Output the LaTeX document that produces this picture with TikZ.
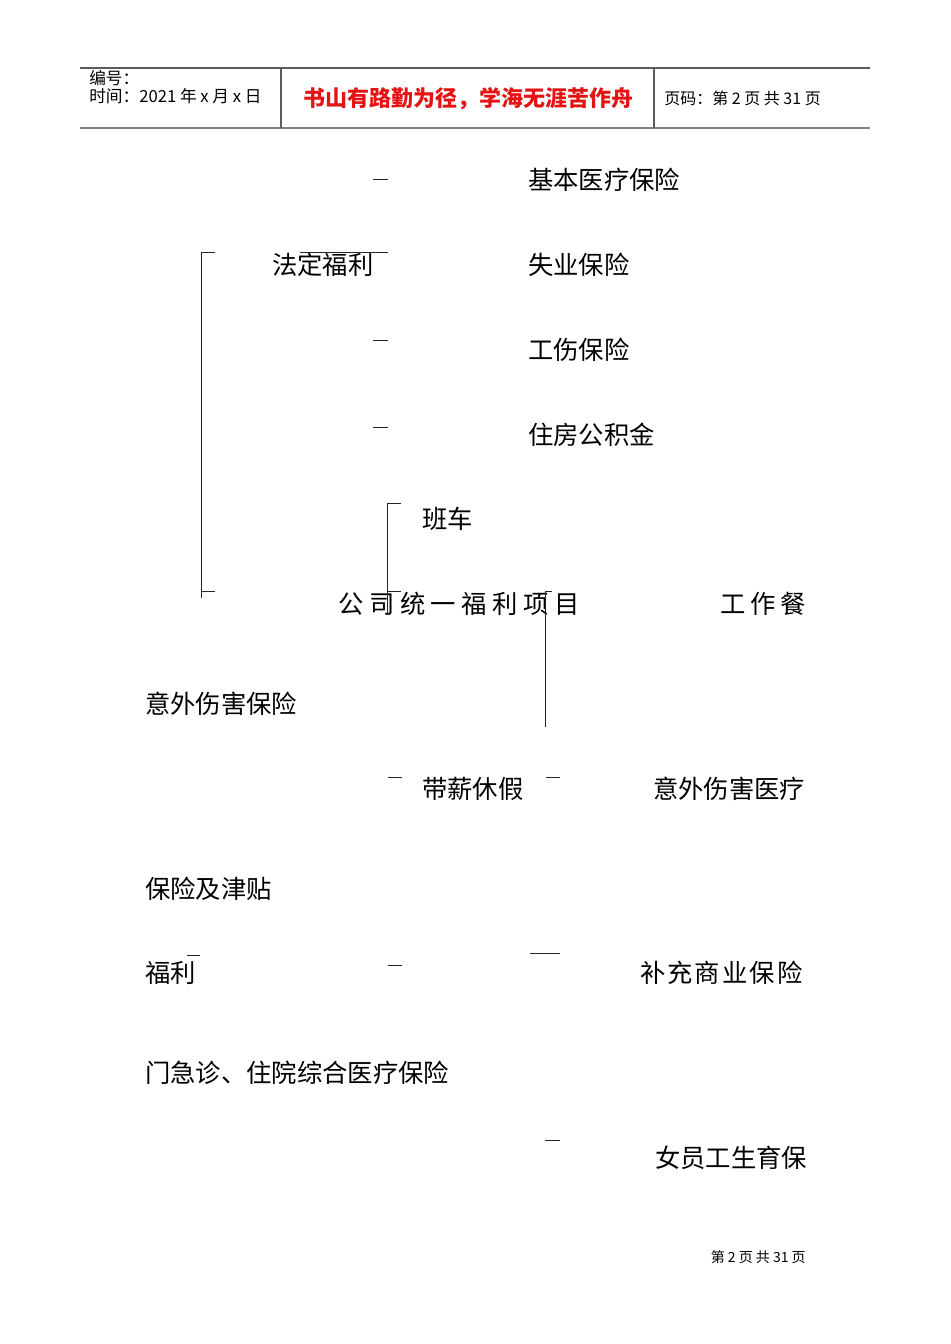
\documentclass[tikz,border=0pt]{standalone}
\usepackage{fontspec}
\setmainfont{Noto Sans CJK SC}
\usepackage{xcolor}
\definecolor{head-red}{RGB}{228,20,20}
\definecolor{rule-gray}{RGB}{130,130,130}
\tikzset{
    item-text/.style = {anchor=west, inner sep=0pt, font=\fontsize{19}{22}\selectfont},
    wide-text/.style = {item-text, font=\fontsize{19}{22}\selectfont\addfontfeature{LetterSpace=#1}},
    head-text/.style = {anchor=west, inner sep=0pt, font=\fontsize{12.5}{14}\selectfont},
    brace-line/.style = {draw=black!85, line width=0.75pt},
}

\begin{document}
\begin{tikzpicture}[x=0.75pt, y=-0.75pt]
\useasboundingbox (0,0) rectangle (950,1344);
% page header
\draw[rule-gray!70!black, line width=0.8pt] (80,68) -- (870,68);
\draw[rule-gray, line width=1.6pt] (80,128) -- (870,128);
\draw[rule-gray!70!black, line width=0.8pt] (281,68) -- (281,128);
\draw[rule-gray!70!black, line width=0.8pt] (654,68) -- (654,128);
\node[head-text] (code) at (89,78) {编号：};
\node[head-text] (date) at (89,96) {时间：2021 年 x 月 x 日};
\node[inner sep=0pt, text=head-red, font=\fontsize{16.5}{18}\selectfont\bfseries] (motto) at (468,99) {书山有路勤为径，学海无涯苦作舟};
\node[head-text, font=\fontsize{12}{14}\selectfont] (page-no) at (664,98) {页码：第 2 页 共 31 页};

% statutory benefits
\node[item-text] (basic-med) at (528,180) {基本医疗保险};
\node[item-text] (statutory) at (272,265) {法定福利};
\node[item-text] (unemploy) at (528,265) {失业保险};
\node[item-text] (injury) at (528,350) {工伤保险};
\node[item-text] (housing) at (528,435) {住房公积金};
\draw[brace-line] (373,180) -- (388,180);
\draw[brace-line] (300,253) -- (388,253);
\draw[brace-line] (373,340) -- (388,340);
\draw[brace-line] (373,427) -- (388,427);
\draw[brace-line] (215,253) -- (201,253) -- (201,598);
\draw[brace-line] (201,591) -- (215,591);

% company benefits
\node[item-text] (shuttle) at (422,519) {班车};
\node[wide-text=22] (company) at (338,604) {公司统一福利项目};
\node[wide-text=19] (meal) at (720,604) {工作餐};
\draw[brace-line] (401,503) -- (387,503) -- (387,615);
\draw[brace-line] (387,591) -- (401,591);
\draw[brace-line] (552,591) -- (545,591) -- (545,727);

\node[item-text] (accident) at (145,704) {意外伤害保险};
\node[item-text] (paid-leave) at (422,789) {带薪休假};
\node[item-text] (accident-med) at (653,789) {意外伤害医疗};
\draw[brace-line] (388,777) -- (402,777);
\draw[brace-line] (546,777) -- (560,777);
\node[item-text] (allowance) at (145,889) {保险及津贴};
\node[item-text] (welfare) at (145,973) {福利};
\node[wide-text=8] (commercial) at (640,973) {补充商业保险};
\draw[brace-line] (187,955) -- (200,955);
\draw[brace-line] (388,965) -- (402,965);
\draw[brace-line] (530,953) -- (560,953);
\node[item-text] (outpatient) at (145,1073) {门急诊、住院综合医疗保险};
\node[item-text] (maternity) at (655,1158) {女员工生育保};
\draw[brace-line] (545,1140) -- (560,1140);

% page footer
\node[anchor=east, inner sep=0pt, font=\fontsize{10.5}{12}\selectfont] (footer) at (806,1257) {第 2 页 共 31 页};
\end{tikzpicture}
\end{document}
